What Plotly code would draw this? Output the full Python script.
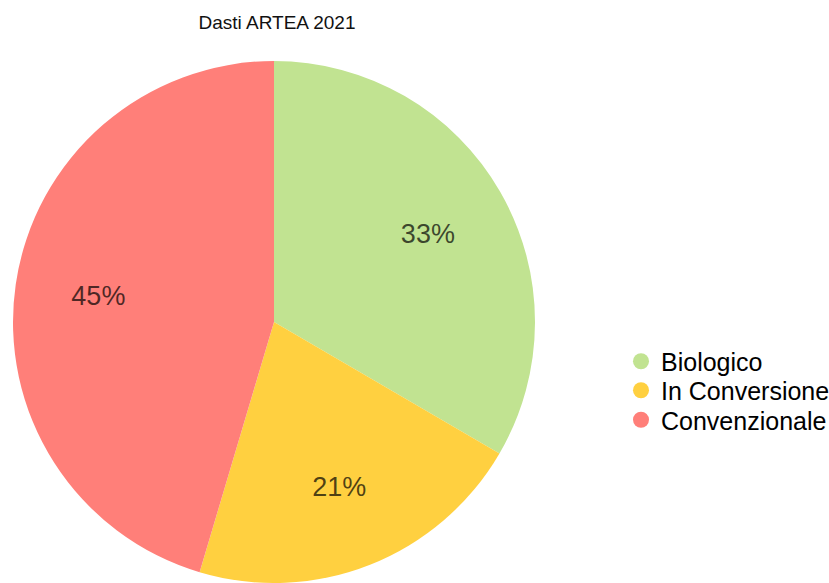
import plotly.graph_objects as go

labels = ["Biologico", "In Conversione", "Convenzionale"]
values = [33.4, 21.2, 45.4]
colors = ["#C1E391", "#FFD040", "#FF7F79"]
title_text = "Dasti ARTEA 2021"

W, H = 829, 583
ml, mr, mt, mb = 12, 0, 61, 0
pw = W - ml - mr
ph = H - mt - mb
diam = 524
dom = dict(x=[0, diam / pw], y=[0, 1])

fig = go.Figure()
fig.add_trace(go.Pie(
    labels=labels, values=values,
    marker=dict(colors=colors, line=dict(width=0)),
    sort=False, direction="clockwise", rotation=0,
    textinfo="none", domain=dom,
    showlegend=False, hoverinfo="label+percent",
))
# transparent ring to carry the percentage labels
fig.add_trace(go.Pie(
    labels=labels, values=values, hole=0.36,
    marker=dict(colors=["rgba(0,0,0,0)"] * len(labels), line=dict(width=0)),
    sort=False, direction="clockwise", rotation=0,
    texttemplate="%{percent:.0%}", textposition="inside",
    insidetextorientation="horizontal",
    textfont=dict(size=27, color="rgba(0,0,0,0.7)", family="Liberation Sans, Arial"),
    domain=dom, showlegend=False, hoverinfo="skip",
))

legend_ids = ["legend", "legend2", "legend3"]
row_y = [361.5, 390.5, 420]
for lab, col, lid in zip(labels, colors, legend_ids):
    fig.add_trace(go.Scatter(
        x=[None], y=[None], mode="markers", name=lab,
        marker=dict(symbol="circle", size=20, color=col),
        showlegend=True, legend=lid,
    ))

layout_legends = {}
for lid, yc in zip(legend_ids, row_y):
    layout_legends[lid] = dict(
        x=(621 - ml) / pw, xanchor="left", y=(H - yc) / ph, yanchor="middle",
        font=dict(size=25, color="#000000"), itemsizing="trace",
        bgcolor="rgba(0,0,0,0)", itemwidth=30,
    )

fig.update_layout(
    width=W, height=H,
    margin=dict(l=ml, r=mr, t=mt, b=mb, autoexpand=False),
    paper_bgcolor="white", plot_bgcolor="white",
    font=dict(family="Liberation Sans, Arial", color="#000000"),
    title=dict(text=title_text, x=277 / W, xref="container", xanchor="center",
               y=1 - 22 / H, yref="container", yanchor="middle",
               font=dict(size=19, color="#111111")),
    xaxis=dict(visible=False, domain=[0.99, 1]),
    yaxis=dict(visible=False, domain=[0.99, 1]),
    **layout_legends,
)

fig.write_html("out.html")
